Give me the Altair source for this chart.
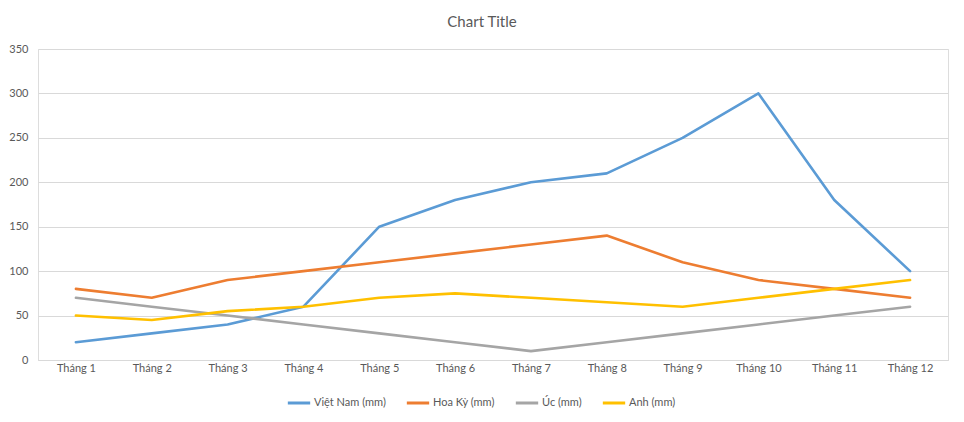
import altair as alt
import pandas as pd

months = [f"Tháng {i}" for i in range(1, 13)]
series_names = ["Việt Nam (mm)", "Hoa Kỳ (mm)", "Úc (mm)", "Anh (mm)"]
viet_nam = [20, 30, 40, 60, 150, 180, 200, 210, 250, 300, 180, 100]
hoa_ky = [80, 70, 90, 100, 110, 120, 130, 140, 110, 90, 80, 70]
uc = [70, 60, 50, 40, 30, 20, 10, 20, 30, 40, 50, 60]
anh = [50, 45, 55, 60, 70, 75, 70, 65, 60, 70, 80, 90]
colors = ["#5B9BD5", "#ED7D31", "#A5A5A5", "#FFC000"]

rows = []
for name, vals in zip(series_names, [viet_nam, hoa_ky, uc, anh]):
    for m, v in zip(months, vals):
        rows.append({"month": m, "series": name, "value": v})
df = pd.DataFrame(rows)

FONT = "Lato"
chart = (
    alt.Chart(df)
    .mark_line(strokeWidth=2.6, strokeCap="round", strokeJoin="round")
    .encode(
        x=alt.X("month:N", sort=months,
                scale=alt.Scale(type="point", padding=0.5),
                axis=alt.Axis(title=None, labelAngle=0, ticks=False, grid=False,
                              domainColor="#D9D9D9", labelPadding=2,
                              labelColor="#595959", labelFontSize=11, labelFont=FONT)),
        y=alt.Y("value:Q", scale=alt.Scale(domain=[0, 350]),
                axis=alt.Axis(title=None, values=list(range(0, 351, 50)), ticks=False,
                              domain=False, gridColor="#D9D9D9", labelPadding=10,
                              labelColor="#595959", labelFontSize=11, labelFont=FONT)),
        color=alt.Color("series:N", sort=series_names,
                        scale=alt.Scale(domain=series_names, range=colors),
                        legend=alt.Legend(title=None, orient="none", direction="horizontal",
                                          legendX=248, legendY=341,
                                          symbolType="stroke", symbolSize=500,
                                          symbolStrokeWidth=3, labelFont=FONT,
                                          labelFontSize=11, labelColor="#595959",
                                          columnPadding=14, labelOffset=2)),
    )
    .properties(
        width=910, height=311,
        title=alt.TitleParams("Chart Title", font=FONT, fontSize=15, fontWeight="normal",
                              color="#595959", anchor="middle", dx=-11, offset=13),
        padding={"left": 38, "top": 49, "right": 16, "bottom": 62},
        autosize=alt.AutoSizeParams(type="none"),
    )
    .configure_view(stroke="transparent", strokeWidth=0)
    .configure(background="white")
)

chart.save("out.html", embed_options={"renderer": "svg", "actions": False})
